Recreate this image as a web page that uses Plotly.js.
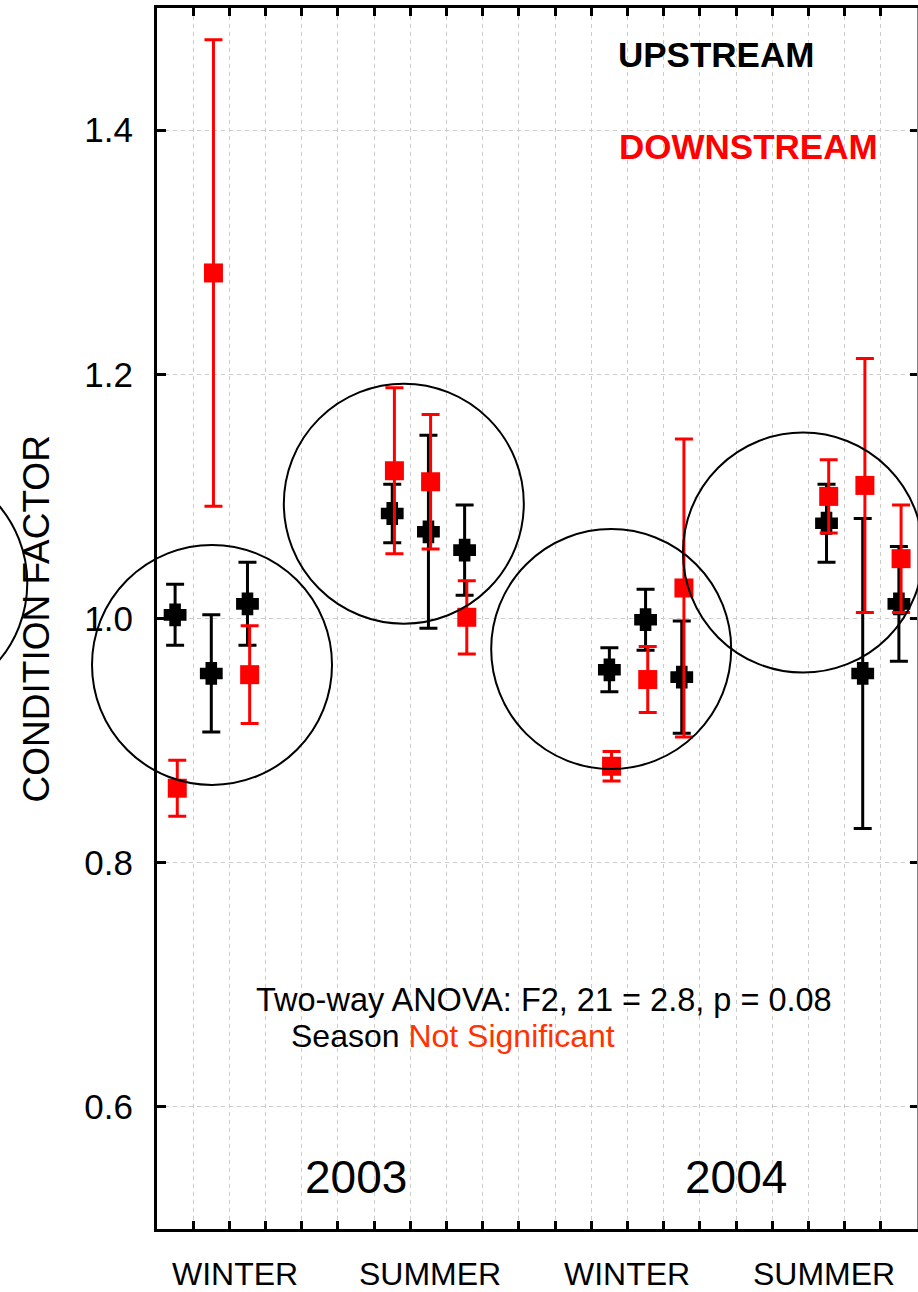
<!DOCTYPE html>
<html>
<head>
<meta charset="utf-8">
<script src="https://cdn.plot.ly/plotly-3.0.1.min.js"></script>
<style>
  html, body { margin: 0; padding: 0; background: #ffffff; }
  #chart { width: 918px; height: 1292px; }
</style>
</head>
<body>
<div id="chart"></div>
<script>
// Site positions along the season axis (three sites per season block)
const sitePositions = [0.5, 1.5, 2.5, 6.5, 7.5, 8.5, 12.5, 13.5, 14.5, 18.5, 19.5, 20.5];

// Upstream condition factor (mean and error)
const upstreamMean = [1.003, 0.955, 1.012, 1.086, 1.071, 1.056, 0.958, 0.999, 0.952, 1.078, 0.955, 1.012];
const upstreamErr  = [0.025, 0.048, 0.034, 0.024, 0.079, 0.037, 0.018, 0.025, 0.046, 0.032, 0.127, 0.047];

// Downstream condition factor (mean and error)
const downstreamMean = [0.861, 1.283, 0.954, 1.121, 1.112, 1.001, 0.879, 0.950, 1.025, 1.100, 1.109, 1.049];
const downstreamErr  = [0.023, 0.191, 0.040, 0.068, 0.055, 0.030, 0.012, 0.027, 0.122, 0.030, 0.104, 0.044];

// Season and year labels
const seasonLabels = ['WINTER', 'SUMMER', 'WINTER', 'SUMMER'];
const seasonLabelPos = [2.15, 7.55, 12.98, 18.42];
const yearLabels = ['2003', '2004'];
const yearLabelPos = [5.5, 16.0];

// Axis extents
const xRange = [0, 21];
const yRange = [0.5, 1.5];

// Rings grouping each season's sites (centres in data units)
const ringCentreX = [1.52, 6.82, 12.55, 17.85, -6.9];
const ringCentreY = [0.962, 1.094, 0.975, 1.054, 1.029];
const ringRadiusPx = 120;

const FONT = 'Liberation Sans, Arial, sans-serif';
const downstreamShift = 0.06;

const upstream = {
  type: 'scatter',
  mode: 'markers',
  x: sitePositions,
  y: upstreamMean,
  error_y: { type: 'data', array: upstreamErr, visible: true, color: '#000000', thickness: 3, width: 9 },
  marker: { symbol: 'cross', size: 14, color: '#000000', line: { color: '#000000', width: 6 } },
  hoverinfo: 'skip',
  showlegend: false
};

const downstream = {
  type: 'scatter',
  mode: 'markers',
  x: sitePositions.map(v => v + downstreamShift),
  y: downstreamMean,
  error_y: { type: 'data', array: downstreamErr, visible: true, color: '#ff0000', thickness: 3, width: 9 },
  marker: { symbol: 'square', size: 19, color: '#ff0000', line: { width: 0 } },
  hoverinfo: 'skip',
  showlegend: false
};

// Carrier for the right-hand axis
const rightAxisCarrier = {
  type: 'scatter', mode: 'none', x: [xRange[0]], y: [yRange[0]],
  yaxis: 'y2', hoverinfo: 'skip', showlegend: false
};

const toPaperX = v => (v - xRange[0]) / (xRange[1] - xRange[0]);
const toPaperY = v => (v - yRange[0]) / (yRange[1] - yRange[0]);

const shapes = ringCentreX.map((cx, i) => ({
  type: 'circle',
  xref: 'paper', yref: 'paper',
  xsizemode: 'pixel', ysizemode: 'pixel',
  xanchor: toPaperX(cx), yanchor: toPaperY(ringCentreY[i]),
  x0: -ringRadiusPx, x1: ringRadiusPx, y0: -ringRadiusPx, y1: ringRadiusPx,
  line: { color: '#000000', width: 2 },
  fillcolor: 'rgba(0,0,0,0)',
  layer: 'above'
}));

const annotations = [];
seasonLabels.forEach((t, i) => annotations.push({
  text: t, x: seasonLabelPos[i], xref: 'x', y: 0, yref: 'paper',
  yshift: -45, xanchor: 'center', yanchor: 'middle', showarrow: false,
  font: { family: FONT, size: 32, color: '#000000' }
}));
yearLabels.forEach((t, i) => annotations.push({
  text: t, x: yearLabelPos[i], xref: 'x', y: 0.543, yref: 'y',
  xanchor: 'center', yanchor: 'middle', showarrow: false,
  font: { family: FONT, size: 46, color: '#000000' }
}));
annotations.push(
  { text: 'UPSTREAM', x: 12.68, y: 1.4616, xref: 'x', yref: 'y', xanchor: 'left', yanchor: 'middle',
    showarrow: false, font: { family: FONT, size: 35, weight: 'bold', color: '#000000' } },
  { text: 'DOWNSTREAM', x: 12.7, y: 1.3868, xref: 'x', yref: 'y', xanchor: 'left', yanchor: 'middle',
    showarrow: false, font: { family: FONT, size: 35, weight: 'bold', color: '#ff0000' } },
  { text: 'Two-way ANOVA: F2, 21 = 2.8, p = 0.08', x: 2.68, y: 0.6875, xref: 'x', yref: 'y',
    xanchor: 'left', yanchor: 'middle', showarrow: false,
    font: { family: FONT, size: 32.5, color: '#000000' } },
  { text: 'Season <span style="color:#ff3300">Not Significant</span>', x: 3.65, y: 0.658, xref: 'x', yref: 'y',
    xanchor: 'left', yanchor: 'middle', showarrow: false,
    font: { family: FONT, size: 32, color: '#000000' } },
  { text: 'CONDITION FACTOR', x: -0.158, y: 0.5, xref: 'paper', yref: 'paper', textangle: -90,
    xanchor: 'center', yanchor: 'middle', showarrow: false,
    font: { family: FONT, size: 37, color: '#000000' } }
);

const gridStyle = { showgrid: true, gridcolor: '#cccccc', gridwidth: 1, griddash: '4px,4px' };

const layout = {
  width: 918,
  height: 1292,
  margin: { l: 157, r: 1, t: 8, b: 63 },
  paper_bgcolor: '#ffffff',
  plot_bgcolor: '#ffffff',
  font: { family: FONT, color: '#000000' },
  showlegend: false,
  xaxis: Object.assign({
    range: xRange, tick0: 0, dtick: 1, ticks: 'inside', ticklen: 8, tickwidth: 3, tickcolor: '#000000',
    showticklabels: false, showline: true, linecolor: '#000000', linewidth: 3, mirror: 'ticks',
    zeroline: false, fixedrange: true
  }, gridStyle),
  yaxis: Object.assign({
    range: yRange, tick0: 0, dtick: 0.2, tickformat: '.1f', ticks: 'inside', ticklen: 9, tickwidth: 3,
    tickcolor: '#000000', showline: true, linecolor: '#000000', linewidth: 3,
    tickfont: { family: FONT, size: 35, color: '#000000' }, ticklabelstandoff: 14,
    zeroline: false, fixedrange: true
  }, gridStyle),
  yaxis2: {
    overlaying: 'y', side: 'right', range: yRange, tick0: 0, dtick: 0.2, ticks: 'inside', ticklen: 7,
    tickwidth: 3, tickcolor: '#000000', showticklabels: false, showgrid: false, zeroline: false,
    showline: true, linecolor: '#808080', linewidth: 1, fixedrange: true
  },
  shapes: shapes,
  annotations: annotations
};

Plotly.newPlot('chart', [upstream, downstream, rightAxisCarrier], layout, { staticPlot: true, displayModeBar: false });
</script>
</body>
</html>
